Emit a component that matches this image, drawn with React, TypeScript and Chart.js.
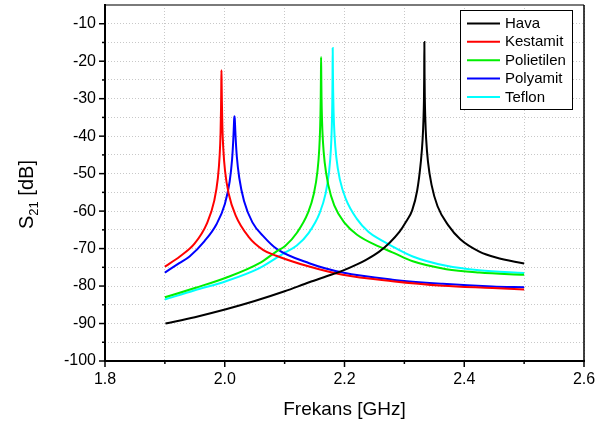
import React, { useEffect, useRef } from "react";
import { Chart, registerables } from "chart.js";

Chart.register(...registerables);

// ---- Data ----
const seriesLabels = ["Hava", "Kestamit", "Polietilen", "Polyamit", "Teflon"];
const seriesColors = ["#000000", "#ff0000", "#00ee00", "#0000ff", "#00ffff"];

const havaFreq = [1.901, 1.95, 2.002, 2.05, 2.1, 2.141, 2.17, 2.197, 2.22, 2.236, 2.258, 2.275, 2.292, 2.303, 2.313, 2.3214, 2.3274, 2.3304, 2.3319, 2.3327, 2.3331, 2.3334, 2.3337, 2.3341, 2.3349, 2.3364, 2.3394, 2.3454, 2.3554, 2.3734, 2.3934, 2.4252, 2.4531, 2.5];
const havaDb = [-90.0, -88.3, -86.2, -84.0, -81.4, -79.0, -77.4, -75.9, -74.3, -73.0, -70.8, -68.5, -65.5, -62.8, -59.8, -54.5, -47.0, -41.0, -35.5, -30.2, -24.0, -14.9, -23.5, -29.5, -35.0, -40.8, -46.8, -53.0, -58.7, -63.8, -67.5, -70.8, -72.4, -74.0];

const kestamitFreq = [1.9, 1.925, 1.9495, 1.9705, 1.9825, 1.9885, 1.9915, 1.993, 1.9938, 1.9942, 1.9945, 1.9948, 1.9952, 1.996, 1.9975, 2.0005, 2.0065, 2.0185, 2.0395, 2.0645, 2.086, 2.141, 2.197, 2.28, 2.364, 2.447, 2.5];
const kestamitDb = [-74.8, -72.1, -68.7, -63.2, -57.2, -51.2, -45.1, -39.1, -32.5, -26.5, -22.4, -26.0, -30.6, -37.2, -43.2, -49.3, -55.3, -61.3, -66.8, -70.4, -71.9, -74.8, -77.0, -78.7, -79.9, -80.5, -80.9];

const polietilenFreq = [1.9, 1.95, 2.002, 2.058, 2.086, 2.1009, 2.1209, 2.1389, 2.1489, 2.1549, 2.1579, 2.1594, 2.1602, 2.1606, 2.1609, 2.1612, 2.1616, 2.1624, 2.1639, 2.1669, 2.1729, 2.1829, 2.2009, 2.2209, 2.258, 2.28, 2.314, 2.37, 2.425, 2.5];
const polietilenDb = [-83.0, -80.5, -77.8, -73.9, -70.8, -69.3, -65.7, -60.5, -55.3, -49.3, -43.3, -37.3, -30.9, -24.6, -18.9, -23.5, -29.5, -35.5, -41.2, -47.0, -53.0, -58.5, -63.3, -66.3, -69.5, -71.0, -73.4, -75.5, -76.4, -77.0];

const polyamitFreq = [1.9, 1.924, 1.9412, 1.9662, 1.9862, 2.0002, 2.0082, 2.0122, 2.0142, 2.0152, 2.0157, 2.0162, 2.0167, 2.0172, 2.0182, 2.0202, 2.0242, 2.0322, 2.0462, 2.0662, 2.0862, 2.141, 2.197, 2.28, 2.364, 2.447, 2.5];
const polyamitDb = [-76.4, -73.9, -72.1, -68.0, -63.5, -58.1, -52.1, -46.3, -41.1, -37.4, -35.5, -34.7, -35.3, -37.0, -40.5, -45.5, -51.1, -57.3, -63.0, -67.0, -70.0, -73.9, -76.4, -78.3, -79.4, -80.1, -80.3];

const teflonFreq = [1.9, 1.95, 2.002, 2.058, 2.097, 2.1203, 2.1403, 2.1583, 2.1683, 2.1743, 2.1773, 2.1788, 2.1796, 2.18, 2.1803, 2.1806, 2.181, 2.1818, 2.1833, 2.1863, 2.1923, 2.2023, 2.2203, 2.2403, 2.2604, 2.2694, 2.314, 2.37, 2.425, 2.5];
const teflonDb = [-83.6, -81.1, -78.7, -75.2, -71.4, -69.2, -65.8, -60.6, -55.4, -49.4, -43.4, -37.4, -31.0, -24.5, -16.5, -22.0, -27.5, -33.6, -39.6, -45.6, -51.6, -56.8, -62.0, -65.6, -67.7, -68.5, -72.1, -74.6, -75.8, -76.5];

const xMin = 1.8, xMax = 2.6, xStep = 0.1;
const yMin = -100, yMax = -5, yStep = 5;

const xTitle = "Frekans [GHz]";
const yTitleMain = "S";
const yTitleSub = "21";
const yTitleRest = " [dB]";

const FONT = '"Liberation Sans", Arial, Helvetica, sans-serif';

function pts(f: number[], d: number[]) {
  return f.map((x, i) => ({ x, y: d[i] }));
}

const decorPlugin = {
  id: "decor",
  afterDraw(chart: any) {
    const ctx = chart.ctx as CanvasRenderingContext2D;
    const { left, right, top, bottom } = chart.chartArea;
    const xs = chart.scales.x;
    const ys = chart.scales.y;
    ctx.save();
    // frame
    ctx.strokeStyle = "#7a7a7a";
    ctx.lineWidth = 2;
    ctx.beginPath();
    ctx.moveTo(left, top);
    ctx.lineTo(right, top);
    ctx.stroke();
    ctx.strokeStyle = "#000";
    ctx.lineWidth = 1.5;
    ctx.beginPath();
    ctx.moveTo(right, top);
    ctx.lineTo(right, bottom);
    ctx.stroke();
    ctx.lineWidth = 2;
    ctx.beginPath();
    ctx.moveTo(left, top - 1);
    ctx.lineTo(left, bottom);
    ctx.lineTo(right + 1, bottom);
    ctx.stroke();
    // tick marks
    ctx.lineWidth = 1.5;
    xs.ticks.forEach((t: any) => {
      const px = xs.getPixelForValue(t.value);
      const major = Math.round(t.value * 10) % 2 === 0;
      ctx.beginPath();
      ctx.moveTo(px, bottom);
      ctx.lineTo(px, bottom + (major ? 6 : 3));
      ctx.stroke();
    });
    ys.ticks.forEach((t: any) => {
      if (t.value >= yMax) return;
      const py = ys.getPixelForValue(t.value);
      const major = Math.round(t.value) % 10 === 0;
      ctx.beginPath();
      ctx.moveTo(left, py);
      ctx.lineTo(left - (major ? 6 : 3), py);
      ctx.stroke();
    });
    // y title with subscript
    ctx.translate(33, 229);
    ctx.rotate(-Math.PI / 2);
    ctx.fillStyle = "#000";
    ctx.textBaseline = "alphabetic";
    ctx.textAlign = "left";
    ctx.font = `20px ${FONT}`;
    ctx.fillText(yTitleMain, 0, 0);
    const wS = ctx.measureText(yTitleMain).width;
    ctx.font = `13px ${FONT}`;
    ctx.fillText(yTitleSub, wS, 5);
    const w21 = ctx.measureText(yTitleSub).width;
    ctx.font = `20px ${FONT}`;
    ctx.fillText(yTitleRest, wS + w21, 0);
    ctx.restore();

    // legend
    ctx.save();
    const bx = 460.5, by = 10.5, bw = 112, bh = 99;
    ctx.fillStyle = "#fff";
    ctx.fillRect(bx, by, bw, bh);
    ctx.strokeStyle = "#000";
    ctx.lineWidth = 1;
    ctx.strokeRect(bx, by, bw, bh);
    ctx.font = `15px ${FONT}`;
    ctx.textBaseline = "middle";
    ctx.textAlign = "left";
    chart.data.datasets.forEach((ds: any, i: number) => {
      const y = 23.5 + 18.35 * i;
      ctx.strokeStyle = ds.borderColor;
      ctx.lineWidth = 2;
      ctx.beginPath();
      ctx.moveTo(467, y);
      ctx.lineTo(500, y);
      ctx.stroke();
      ctx.fillStyle = "#000";
      ctx.fillText(ds.label, 505, y + 0.5);
    });
    ctx.restore();
  },
};

export default function App() {
  const ref = useRef<HTMLCanvasElement | null>(null);
  useEffect(() => {
    document.body.style.margin = "0";
    const canvas = ref.current;
    if (!canvas) return;
    const data = [
      pts(havaFreq, havaDb),
      pts(kestamitFreq, kestamitDb),
      pts(polietilenFreq, polietilenDb),
      pts(polyamitFreq, polyamitDb),
      pts(teflonFreq, teflonDb),
    ];
    const chart = new Chart(canvas, {
      type: "line",
      data: {
        datasets: data.map((d, i) => ({
          label: seriesLabels[i],
          data: d,
          borderColor: seriesColors[i],
          backgroundColor: seriesColors[i],
          borderWidth: 2,
          pointRadius: 0,
          cubicInterpolationMode: "monotone" as const,
          fill: false,
        })),
      },
      options: {
        animation: false,
        responsive: false,
        devicePixelRatio: 1,
        layout: { padding: { left: 0, right: 21, top: 5, bottom: 0 } },
        plugins: { legend: { display: false }, tooltip: { enabled: false } },
        scales: {
          x: {
            type: "linear",
            min: xMin,
            max: xMax,
            afterFit: (s: any) => { s.height = 64; s.paddingLeft = 0; s.paddingRight = 0; },
            grid: { color: "#c8c8c8", lineWidth: 1, drawTicks: false },
            border: { display: false, dash: [1, 2] },
            ticks: {
              stepSize: xStep,
              autoSkip: false,
              maxRotation: 0,
              padding: 9,
              color: "#000",
              font: { family: FONT, size: 16 },
              callback: (v: any) => (Math.round(Number(v) * 10) % 2 === 0 ? Number(v).toFixed(1) : ""),
            },
            title: {
              display: true,
              text: xTitle,
              color: "#000",
              font: { family: FONT, size: 19 },
              padding: { top: 0, bottom: 4 },
            },
          },
          y: {
            type: "linear",
            min: yMin,
            max: yMax,
            afterFit: (s: any) => { s.width = 105; s.paddingTop = 0; s.paddingBottom = 0; },
            grid: { color: "#c8c8c8", lineWidth: 1, drawTicks: false },
            border: { display: false, dash: [1, 2] },
            ticks: {
              stepSize: yStep,
              autoSkip: false,
              padding: 9,
              color: "#000",
              font: { family: FONT, size: 16 },
              callback: (v: any) => (Math.round(Number(v)) % 10 === 0 ? String(Math.round(Number(v))) : ""),
            },
          },
        },
      },
      plugins: [decorPlugin],
    });
    return () => chart.destroy();
  }, []);
  return (
    <div style={{ width: 605, height: 425 }}>
      <canvas ref={ref} width={605} height={425} style={{ width: 605, height: 425, display: "block" }} />
    </div>
  );
}
